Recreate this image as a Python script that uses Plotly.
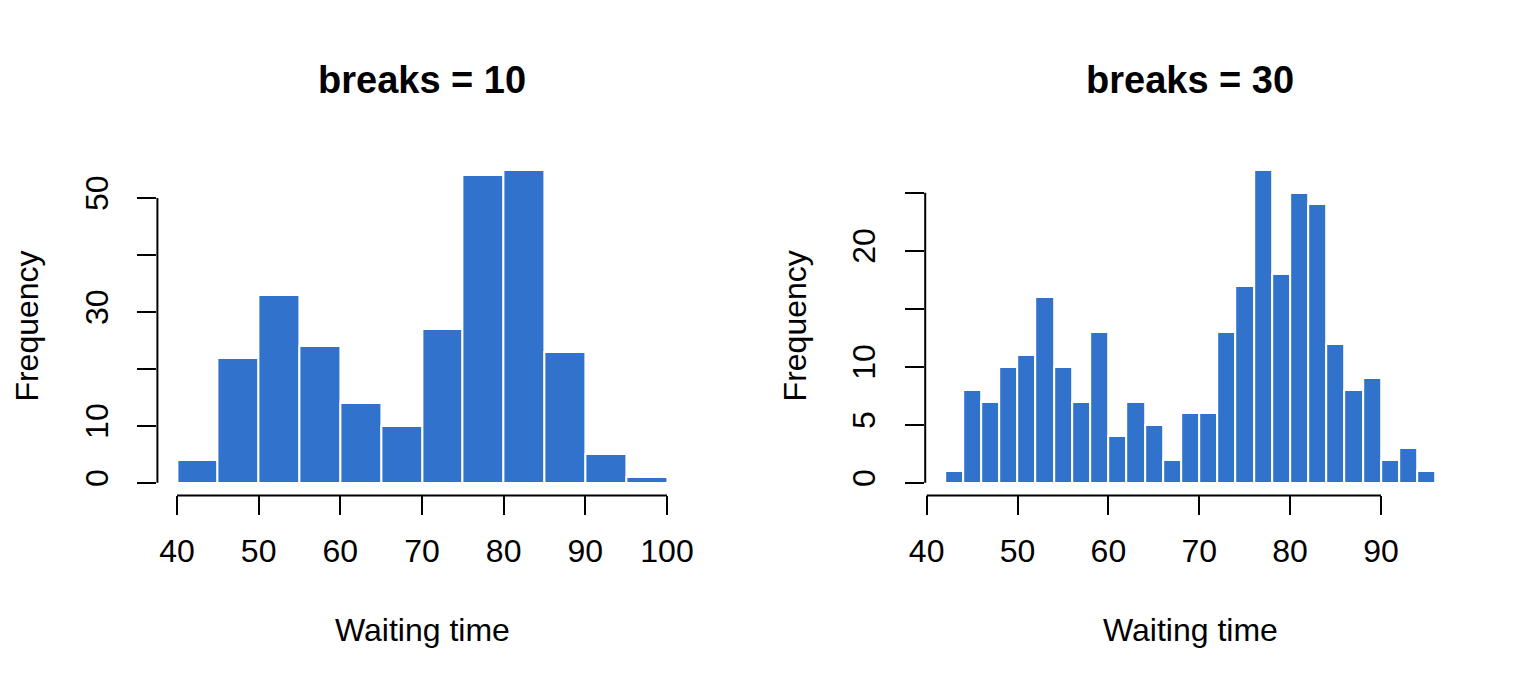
import plotly.graph_objects as go

# ---- data (faithful waiting times) ----
breaks10 = [40, 45, 50, 55, 60, 65, 70, 75, 80, 85, 90, 95, 100]
counts10 = [4, 22, 33, 24, 14, 10, 27, 54, 55, 23, 5, 1]

breaks30 = [42, 44, 46, 48, 50, 52, 54, 56, 58, 60, 62, 64, 66, 68, 70,
            72, 74, 76, 78, 80, 82, 84, 86, 88, 90, 92, 94, 96]
counts30 = [1, 8, 7, 10, 11, 16, 10, 7, 13, 4, 7, 5, 2, 6, 6,
            13, 17, 27, 18, 25, 24, 12, 8, 9, 2, 3, 1]

xticks1 = [40, 50, 60, 70, 80, 90, 100]
yticks1 = [0, 10, 20, 30, 40, 50]
ylabels1 = ["0", "10", "", "30", "", "50"]

xticks2 = [40, 50, 60, 70, 80, 90]
yticks2 = [0, 5, 10, 15, 20, 25]
ylabels2 = ["0", "5", "10", "", "20", ""]

titles = ["breaks = 10", "breaks = 30"]
xlab = "Waiting time"
ylab = "Frequency"

BAR = "#3172CC"
W, H = 1536, 691
FONT = "Liberation Sans, Arial, sans-serif"


def mids(b):
    return [(b[i] + b[i + 1]) / 2 for i in range(len(b) - 1)]


def widths(b):
    return [b[i + 1] - b[i] for i in range(len(b) - 1)]


def padded(lo, hi):
    d = (hi - lo) * 0.04
    return [lo - d, hi + d]


fig = go.Figure()
fig.add_trace(go.Bar(x=mids(breaks10), y=counts10, width=widths(breaks10),
                     marker=dict(color=BAR, line=dict(color="white", width=2)),
                     xaxis="x", yaxis="y", showlegend=False))
fig.add_trace(go.Bar(x=mids(breaks30), y=counts30, width=widths(breaks30),
                     marker=dict(color=BAR, line=dict(color="white", width=2)),
                     xaxis="x2", yaxis="y2", showlegend=False))

# plot regions in pixels
top_px, bot_px = 157.0, 495.4
regions = [(157.4, 686.6), (925.2, 1455.1)]
ydom = [1 - bot_px / H, 1 - top_px / H]
xdoms = [[l / W, r / W] for l, r in regions]

common_x = dict(showgrid=False, zeroline=False, showline=False, ticks="outside",
                ticklen=19, tickwidth=2, tickcolor="black", automargin=False,
                ticklabelstandoff=8,
                tickfont=dict(size=32, color="black", family=FONT))
common_y = dict(showgrid=False, zeroline=False, showline=False, ticks="outside",
                ticklen=19, tickwidth=2, tickcolor="black", tickangle=-90,
                automargin=False, ticklabelstandoff=17,
                tickfont=dict(size=32, color="black", family=FONT))

fig.update_layout(
    width=W, height=H,
    margin=dict(l=0, r=0, t=0, b=0),
    paper_bgcolor="white", plot_bgcolor="white",
    bargap=0,
    xaxis=dict(domain=xdoms[0], range=padded(breaks10[0], breaks10[-1]),
               tickvals=xticks1, ticktext=[str(v) for v in xticks1],
               anchor="y", **common_x),
    yaxis=dict(domain=ydom, range=padded(0, max(counts10)),
               tickvals=yticks1, ticktext=ylabels1, anchor="x", **common_y),
    xaxis2=dict(domain=xdoms[1], range=padded(breaks30[0], breaks30[-1]),
                tickvals=xticks2, ticktext=[str(v) for v in xticks2],
                anchor="y2", **common_x),
    yaxis2=dict(domain=ydom, range=padded(0, max(counts30)),
                tickvals=yticks2, ticktext=ylabels2, anchor="x2", **common_y),
)

# axis lines spanning first to last tick (R style)
for xr, yr, xt, yt, dom in [("x", "y", xticks1, yticks1, xdoms[0]),
                            ("x2", "y2", xticks2, yticks2, xdoms[1])]:
    fig.add_shape(type="line", xref=xr, yref="paper", x0=xt[0], x1=xt[-1],
                  y0=ydom[0], y1=ydom[0], line=dict(color="black", width=2))
    fig.add_shape(type="line", xref="paper", yref=yr, x0=dom[0], x1=dom[0],
                  y0=yt[0], y1=yt[-1], line=dict(color="black", width=2))

# titles and axis labels
for i, (l, r) in enumerate(regions):
    cx = (l + r) / 2
    fig.add_annotation(text="<b>" + titles[i] + "</b>", xref="paper", yref="paper",
                       x=cx / W, y=1 - 80 / H, showarrow=False,
                       xanchor="center", yanchor="middle",
                       font=dict(size=38, color="black", family=FONT))
    fig.add_annotation(text=xlab, xref="paper", yref="paper",
                       x=cx / W, y=1 - 630 / H, showarrow=False,
                       xanchor="center", yanchor="middle",
                       font=dict(size=32, color="black", family=FONT))
    fig.add_annotation(text=ylab, xref="paper", yref="paper",
                       x=(l - 130) / W, y=1 - ((top_px + bot_px) / 2) / H,
                       showarrow=False, textangle=-90,
                       xanchor="center", yanchor="middle",
                       font=dict(size=32, color="black", family=FONT))

fig.write_html("out.html")
